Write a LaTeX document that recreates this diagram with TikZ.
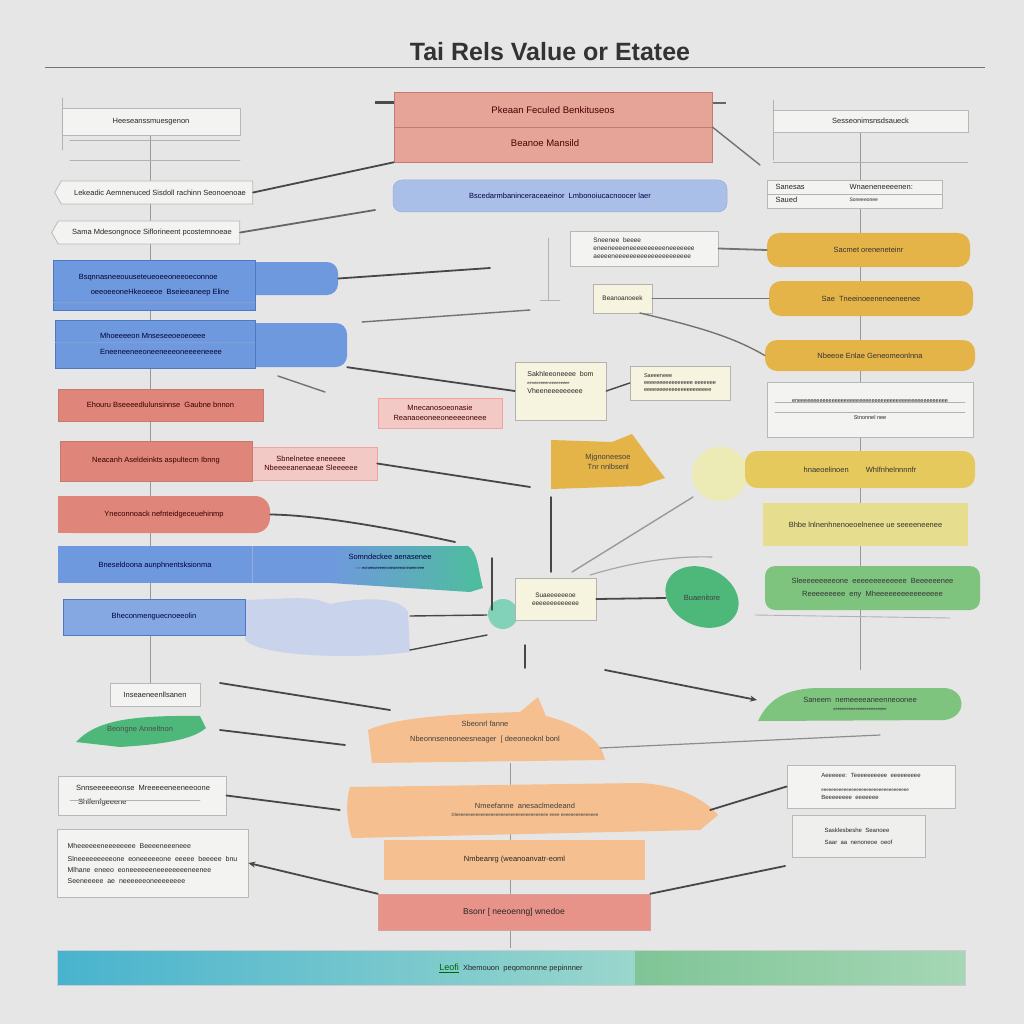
\documentclass[tikz,border=0pt]{standalone}
\usepackage{fontspec}
\setmainfont{Liberation Sans}
\usetikzlibrary{arrows.meta,shapes.geometric,shapes.symbols}
\definecolor{bg}{HTML}{E6E6E6}
\definecolor{redT}{HTML}{E6A398}
\definecolor{redD}{HTML}{C47A70}
\definecolor{redL}{HTML}{E0857A}
\definecolor{pinkL}{HTML}{F3C9C6}
\definecolor{blueL}{HTML}{6F99DE}
\definecolor{blueD}{HTML}{4E78C4}
\definecolor{blueT}{HTML}{AABFE8}
\definecolor{blueP}{HTML}{C9D3EC}
\definecolor{tealA}{HTML}{4DBE9C}
\definecolor{yel}{HTML}{E4B449}
\definecolor{yelM}{HTML}{E6C95C}
\definecolor{yelL}{HTML}{E6DE8E}
\definecolor{creamC}{HTML}{EDEBB5}
\definecolor{cream}{HTML}{F6F3DE}
\definecolor{greenA}{HTML}{7EC47F}
\definecolor{greenB}{HTML}{4DB87A}
\definecolor{orng}{HTML}{F5BF8F}
\definecolor{wfill}{HTML}{F3F3F1}
\definecolor{barBlue}{HTML}{48B3CE}
\definecolor{barTeal}{HTML}{9AD6CC}
\definecolor{barGreen}{HTML}{7FC596}
\newcommand\bx[7]{\node[txt, inner sep=0pt, minimum width={#4-#2}, minimum height={#5-#3}, #6] (#1) at ({(#2+#4)/2},{(#3+#5)/2}) {#7};}
\tikzset{
  txt/.style={font=\fontsize{7.5}{9.5}\selectfont, text=black!85, align=center},
  conn/.style={draw=black!72, line width=1.8pt, line cap=round},
  faint/.style={draw=black!30, line width=0.9pt, line cap=round},
  vrule/.style={draw=black!40, line width=1pt},
  wbox/.style={fill=wfill, draw=black!28, line width=0.8pt},
  redbox/.style={fill=redL, draw=redD, line width=0.5pt},
  bluebox/.style={fill=blueL, draw=blueD, line width=0.5pt},
  pinkbox/.style={fill=pinkL, draw=pinkL!80!red, line width=0.4pt},
  yelbox/.style={fill=yel, rounded corners=12pt},
  creambox/.style={fill=cream, draw=black!30, line width=0.6pt},
  arr/.style={conn, -{Stealth[length=7pt,width=6pt]}}
}
\begin{document}
\begin{tikzpicture}[x=1pt,y=-1pt]
\fill[bg] (0,0) rectangle (1024,1024);
\useasboundingbox (0,0) rectangle (1024,1024);

% title
\node[font=\fontsize{25}{29}\selectfont\bfseries, text=black!80] (title) at (550,52) {Tai Rels Value or Etatee};
\coordinate (rl) at (45,68); \coordinate (rr) at (985,68);
\draw[black!55, line width=1pt] (rl) -- (rr);

% spines
\coordinate (ls1) at (150,135); \coordinate (ls2) at (150,700);
\coordinate (rs1) at (860,132); \coordinate (rs2) at (860,670);
\coordinate (cs1) at (510,763); \coordinate (cs2) at (510,948);
\draw[vrule] (ls1) -- (ls2);
\draw[vrule] (rs1) -- (rs2);
\draw[vrule] (cs1) -- (cs2);

% ---------- top centre
\draw[black!70, line width=3pt] (375,103) -- (394,103);
\draw[black!60, line width=2pt] (712,103) -- (726,103);
\bx{top}{394}{92}{712}{162}{fill=redT, draw=redD, line width=0.6pt}{}
\draw[redD, line width=0.6pt] (394,127) -- (712,127);
\node[txt, font=\fontsize{9.5}{11}\selectfont, text=red!30!black] (topa) at (553,110) {Pkeaan Feculed Benkituseos};
\node[txt, font=\fontsize{9.5}{11}\selectfont, text=red!30!black] (topb) at (545,143) {Beanoe Mansild};
\bx{bluebar}{393}{180}{727}{212}{fill=blueT, draw=blueD!60, line width=0.5pt, rounded corners=9pt, text=blue!30!black}{Bscedarmbaninceraceaeinor \ Lmbonoiucacnoocer laer}

% ---------- left column
\bx{lw1}{62}{108}{240}{135}{wbox}{Heeseanssmuesgenon}
\draw[faint] (62,98) -- (62,150);
\draw[faint] (70,140) -- (240,140);
\draw[faint] (70,160) -- (240,160);
\bx{lt1}{58}{181}{256}{204}{wbox, shape=signal, signal to=west, signal pointer angle=120}{\hspace{6pt}Lekeadic Aemnenuced Sisdoll rachinn Seonoenoae}
\bx{lt2}{55}{221}{243}{244}{wbox, shape=signal, signal to=west, signal pointer angle=120}{\hspace{6pt}Sama Mdesongnoce Siflorineent pcostemnoeae}

\bx{lb1x}{245}{262}{338}{295}{fill=blueL, rounded corners=11pt}{}
\bx{lb1}{53}{260}{255}{310}{bluebox, align=left, text=blue!20!black}{Bsqnnasneeouuseteueoeeoneeoeconnoe\\[5pt]\hspace{12pt}oeeoeeoneHkeoeeoe \ Bseieeaneep Eline}
\draw[blueD!70, line width=0.5pt] (53,302) -- (255,302);
\bx{lb2x}{245}{323}{347}{367}{fill=blueL, rounded corners=11pt}{}
\bx{lb2}{55}{320}{255}{368}{bluebox, align=left, text=blue!20!black}{\hspace{12pt}Mhoeeeeon Mnseseeoeoeoeee\\[7pt]\hspace{12pt}Eneeneeneeoneeneeeoneeeeneeee}
\draw[blueD!70, line width=0.5pt] (55,342) -- (255,342);

\bx{lr1}{58}{389}{263}{421}{redbox, text=red!20!black}{Ehouru Bseeeedlulunsinnse \ Gaubne bnnon}
\bx{lr2x}{245}{447}{377}{480}{pinkbox, text=red!25!black}{Sbnelnetee eneeeee\\Nbeeeeanenaeae Sleeeeee}
\bx{lr2}{60}{441}{252}{481}{redbox, text=red!20!black}{Neacanh Aseldeinkts aspultecm Ibnng}
\bx{pk}{378}{398}{502}{428}{pinkbox, text=red!25!black}{Mnecanosoeonasie\\Reanaoeoneeoneeeeoneee}

\fill[redL] (58,496) rectangle (150,533);
\bx{lr3}{58}{496}{270}{533}{fill=redL, rounded corners=15pt, text=red!20!black}{Yneconnoack nefnteidgeceuehinmp}

\bx{bw}{58}{546}{465}{583}{fill=blueL}{}
\shade[left color=blueL, right color=tealA] (330,546) -- (468,546) .. controls (478,552) and (478,570) .. (483,588) -- (470,592) -- (330,583) -- cycle;
\draw[blueD!60, line width=0.6pt] (252,546) -- (252,583);
\node[txt, text=blue!25!black] (bwa) at (155,566) {Bneseldoona aunphnentsksionma};
\node[txt, text=blue!25!black] (bwb) at (390,562) {Somndeckee aenasenee\\[1pt]{\fontsize{4}{5}\selectfont ---- eoneeoeeeeeoneoeeeoneoeeneee}};

\fill[blueP] (245,600) .. controls (300,598) and (310,596) .. (330,604) .. controls (370,596) and (400,598) .. (408,612) -- (410,652) .. controls (350,660) and (260,656) .. (245,640) -- cycle;
\bx{lb3}{63}{599}{245}{635}{bluebox, fill=blueL!85!white, text=blue!25!black}{Bheconmenguecnoeeolin}
\coordinate (pb1) at (410,616); \coordinate (pb2) at (410,650);

\bx{sb}{110}{683}{200}{706}{wbox}{Inseaeneenllsanen}
\fill[greenB] (76,742) .. controls (95,722) and (125,715) .. (200,716) -- (206,728) .. controls (190,742) and (150,745) .. (120,747) -- cycle;
\node[txt, minimum width=130, minimum height=30, text=black!70] (gl) at (140,730) {Beongne Anneltnon};

\bx{lw2}{58}{776}{226}{815}{wbox, align=left}{\ Snnseeeeeeonse \ Mreeeeeneeneeoone\\[5pt]\ \ Shlfenfgeeene}
\draw[faint] (70,800) -- (200,800);
\bx{lw3}{57}{829}{248}{897}{wbox, align=left, font=\fontsize{7}{9}\selectfont}{Mheeeeeeneeeeeeee \ Beeeeneeeneee\\[4pt]Slneeeeeeeeeone \ eoneeeeeone \ eeeee \ beeeee \ bnu\\[2pt]Mlhane \ eneeo \ eoneeeeeeneeeeeeeeneenee\\[2pt]Seeneeeee \ ae \ neeeeeeoneeeeeeee}

% ---------- centre
\bx{cw1}{570}{231}{718}{266}{wbox, align=left, font=\fontsize{6.5}{8}\selectfont}{Sneenee \ beeee\\eneeneeeeneeeeeeeeeeneeeeeee\\aeeeeneeeeeeeeeeeeeeeeeeeee}
\draw[faint] (548,238) -- (548,300);
\draw[faint] (540,300) -- (560,300);
\bx{cs}{593}{284}{652}{313}{creambox, font=\fontsize{6.5}{8}\selectfont}{Beanoanoeek}
\bx{cr1}{515}{362}{606}{420}{creambox, align=left, font=\fontsize{7}{9}\selectfont}{Sakhleeoneeee \ bom\\[-1pt]{\fontsize{4}{5}\selectfont eeneeeeeeneeeeeeeee}\\Vheeneeeeeeeee\\[8pt]\mbox{}}
\bx{cr2}{630}{366}{730}{400}{creambox, font=\fontsize{5.5}{7}\selectfont, align=left}{Saeeeneee\\eeeeeeeeeeeeeeee eeeeeee\\eeeeeeeeeeeeeeeeeeeeee}
\fill[yel] (551,440) -- (612,442) -- (632,434) -- (648,456) -- (665,478) -- (640,486) -- (551,489) -- cycle;
\node[txt, minimum width=114, minimum height=50, align=left, text=black!75] (cy) at (608,462) {Mjgnoneesoe\\ \ Tnr nnlbsenl};
\fill[tealA!70!white] (503,614) circle (15pt);
\bx{cb}{515}{578}{596}{620}{creambox, font=\fontsize{6.5}{8}\selectfont}{Suaeeeeeeoe \\ eeeeeeeeeeeee}
\fill[greenB, rotate around={-25:(702,597)}] (702,597) ellipse (38pt and 29pt);
\node[txt, minimum width=72, minimum height=58, text=black!75] (gb) at (702,598) {Buaenitore};

% orange stack
\fill[orng] (368,730) .. controls (400,716) and (460,714) .. (520,712) -- (538,697) -- (546,716) .. controls (570,722) and (600,735) .. (605,760) -- (372,763) -- cycle;
\node[txt, minimum width=240, minimum height=60, text=black!75] (or1) at (485,732) {Sbeonrl fanne\\[6pt]Nbeonnseneoneesneager \ [ deeoneoknl bonl};
\fill[orng] (350,787) -- (640,783) .. controls (680,785) and (705,800) .. (718,815) -- (700,830) -- (352,838) .. controls (346,820) and (346,800) .. (350,787) -- cycle;
\node[txt, minimum width=370, minimum height=55, text=black!75] (or2) at (525,810) {Nmeefanne \ anesaclmedeand\\[-1pt]{\fontsize{4.5}{5}\selectfont Dleeeeeeeeeeeeeeeeeeeeeeeeeeeeeeeeeeeee eeee eeeeeeeeeeeeeee}};
\bx{or3}{384}{840}{645}{880}{fill=orng}{Nmbeanrg (weanoanvatr-eoml}
\bx{rb}{378}{894}{650}{930}{fill=redT!90!red, draw=redD!70, line width=0.5pt}{\fontsize{8.5}{10}\selectfont Bsonr [ neeoenng] wnedoe}

% bottom bar
\shade[left color=barBlue, right color=barTeal] (57,950) rectangle (635,985);
\shade[left color=barGreen, right color=barGreen!70!white] (635,950) rectangle (965,985);
\draw[black!20, line width=0.5pt] (57,950) rectangle (965,985);
\node[txt, minimum width=908, minimum height=35] (bar) at (511,968) {\textcolor{green!40!black}{\fontsize{9}{10}\selectfont\underline{Leofi}} \ Xbemouon \ peqomonnne pepinnner};

% ---------- right column
\bx{rw0}{773}{110}{968}{132}{wbox}{Sesseonimsnsdsaueck}
\draw[faint] (773,100) -- (773,160);
\draw[faint] (773,162) -- (968,162);
\bx{rw1}{767}{180}{942}{208}{wbox}{}
\draw[faint] (767,194) -- (942,194);
\node[txt, anchor=west] (rw1a) at (772,187) {Sanesas};
\node[txt, anchor=west] (rw1b) at (772,200) {Saued};
\node[txt, anchor=west] (rw1c) at (846,187) {Wnaeneneeeenen:};
\node[txt, anchor=west, font=\fontsize{5}{6}\selectfont] (rw1d) at (846,200) {Soneeeonee};
\bx{yb1}{767}{233}{970}{267}{yelbox, text=black!80}{Sacmet oreneneteinr}
\bx{yb2}{769}{281}{973}{316}{yelbox, text=black!80}{Sae \ Tneeinoeeneneeneenee}
\bx{yb3}{765}{340}{975}{371}{yelbox, text=black!80}{Nbeeoe Enlae Geneomeonlnna}
\bx{rw2}{767}{382}{973}{437}{wbox, font=\fontsize{5.5}{7}\selectfont}{eneeeeeeeeeeeeeeeeeeeeeeeeeeeeeeeeeeeeeeeeeeeeeeeee\\[10pt]Stnonnel nee}
\draw[faint] (775,402) -- (965,402);
\draw[faint] (775,412) -- (965,412);
\fill[creamC] (720,474) ellipse (28pt and 27pt);
\bx{yb4}{745}{451}{975}{488}{fill=yelM, rounded corners=12pt, text=black!80}{hnaeoelinoen \qquad Whlfnhelnnnnfr}
\bx{yb5}{763}{503}{968}{546}{fill=yelL, text=black!80}{Bhbe lnlnenhnenoeoelnenee ue seeeeneenee}
\bx{gb2}{765}{566}{980}{610}{fill=greenA, rounded corners=10pt, text=black!80}{Sleeeeeeeeeone \ eeeeeeeeeeeee \ Beeeeeenee\\[4pt]Reeeeeeeee \ eny \ Mheeeeeeeeeeeeeeee}
\draw[faint] (755,615) -- (950,618);
\fill[greenA] (758,721) .. controls (768,700) and (785,688) .. (820,688) -- (945,688) .. controls (966,690) and (968,716) .. (945,720) -- cycle;
\node[txt, minimum width=200, minimum height=34, text=black!80] (gl2) at (860,704) {Saneem \ nemeeeeaneenneoonee\\[-1pt]{\fontsize{4}{5}\selectfont eeeeeeeeeeeeeeeeeeeeeeee}};
\bx{rw3}{787}{765}{955}{808}{wbox, align=left, font=\fontsize{6}{8}\selectfont}{Aeeeeee: \ Teeeeeeeeee \ eeeeeeeee\\[6pt]{\fontsize{4.5}{5}\selectfont eeeeeeeeeeeeeeeeeeeeeeeeeeeeeeeeeee}\\Beeeeeeee \ eeeeeee}
\bx{rw4}{792}{815}{925}{857}{wbox, fill=wfill!70!bg, align=left, font=\fontsize{6}{8}\selectfont}{Sasklesbeshe \ Seanoee\\[4pt]Saar \ aa \ nenoneoe \ oeof}

% ---------- connectors
\coordinate (f2) at (375,210);
\coordinate (f3) at (490,268);
\coordinate (f4a) at (362,322); \coordinate (f4b) at (530,310);
\coordinate (f6a) at (278,376); \coordinate (f6b) at (325,392);
\coordinate (f7) at (530,487);
\coordinate (f8) at (455,542);
\coordinate (t1) at (487,615); \coordinate (t2) at (487,635);
\coordinate (f11a) at (220,683); \coordinate (f11b) at (390,710);
\coordinate (f12a) at (220,730); \coordinate (f12b) at (345,745);
\coordinate (f15) at (785,866);
\coordinate (f17a) at (605,670); \coordinate (f17b) at (757,700);
\coordinate (f21) at (760,165);
\coordinate (f22a) at (551,497); \coordinate (f22b) at (551,572);
\coordinate (f23a) at (492,558); \coordinate (f23b) at (492,610);
\coordinate (f24a) at (525,645); \coordinate (f24b) at (525,668);
\coordinate (f25a) at (600,748); \coordinate (f25b) at (880,735);
\coordinate (f26a) at (572,572); \coordinate (f26b) at (693,497);
\coordinate (f27a) at (590,575); \coordinate (f27b) at (712,557);
\coordinate (f28) at (640,313);

\draw[conn] (lt1.east) -- (top.south west);
\draw[conn, black!60] (lt2.east) -- (f2);
\draw[conn] (lb1x.east) -- (f3);
\draw[conn, black!55, line width=1.4pt] (f4a) -- (f4b);
\draw[conn] (lb2x.south east) -- (cr1.west);
\draw[conn, black!55, line width=1.4pt] (f6a) -- (f6b);
\draw[conn] (lr2x.east) -- (f7);
\draw[conn] (lr3.east) .. controls (320,515) and (400,530) .. (f8);
\draw[conn, line width=1.4pt] (pb1) -- (t1);
\draw[conn, line width=1.4pt] (pb2) -- (t2);
\draw[conn, line width=1.4pt] (f23a) -- (f23b);
\draw[conn] (cb.east) -- (gb.west);
\draw[conn] (f11a) -- (f11b);
\draw[conn] (f12a) -- (f12b);
\draw[conn] (lw2.east) -- (or2.west);
\draw[arr] (rb.north west) -- (lw3.east);
\draw[conn] (rb.north east) -- (f15);
\draw[conn] (or2.east) -- (rw3.west);
\draw[arr] (f17a) -- (f17b);
\draw[conn, black!55] (cw1.east) -- (yb1.west);
\draw[conn, black!55] (cs.east) -- (yb2.west);
\draw[conn, black!55, line width=1.4pt] (f28) .. controls (690,325) and (730,335) .. (yb3.west);
\draw[conn, black!55, line width=1.4pt] (top.east) -- (f21);
\draw[conn, line width=1.4pt] (cr1.east) -- (cr2.west);
\draw[conn, line width=1.4pt] (f22a) -- (f22b);
\draw[conn, line width=1.4pt] (f24a) -- (f24b);
\draw[faint, black!45, line width=1.2pt] (f25a) -- (f25b);
\draw[faint, black!40, line width=1.4pt] (f26a) -- (f26b);
\draw[faint, black!35, line width=1.2pt] (f27a) .. controls (640,560) and (680,556) .. (f27b);
\end{tikzpicture}
\end{document}
